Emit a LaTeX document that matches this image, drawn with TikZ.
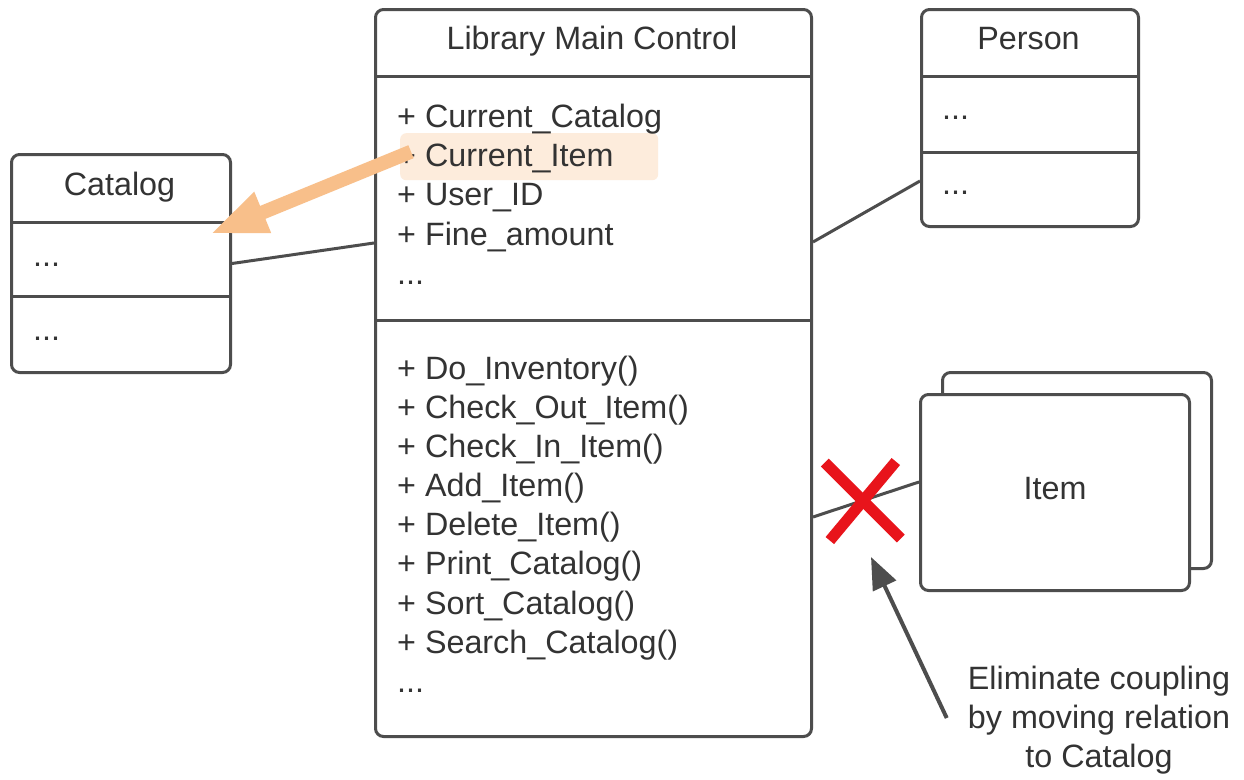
\documentclass[tikz,border=0pt]{standalone}
\usepackage{fontspec}
\setmainfont{Liberation Sans}
\usetikzlibrary{arrows.meta,calc}
\definecolor{ink}{HTML}{333333}
\definecolor{edge}{HTML}{4D4D4D}
\definecolor{peach}{HTML}{F8BF8A}
\definecolor{peachlight}{HTML}{FDECDC}
\definecolor{xred}{HTML}{E8141B}
\begin{document}
\begin{tikzpicture}[x=1pt,y=-1pt,
  every node/.style={font=\fontsize{32.3}{39}\selectfont, text=ink, inner sep=0pt},
  umlbox/.style={draw=edge, line width=3pt, rounded corners=8pt, fill=white, anchor=north west},
  sep/.style={draw=edge, line width=3pt},
  conn/.style={draw=edge, line width=3pt},
  member/.style={anchor=base west},
  title/.style={anchor=base},
  hint/.style={draw=edge, line width=4pt, -{Triangle[length=32pt,width=25pt]}},
  move/.style={draw=peach, line width=14pt, -{Triangle[length=57pt,width=40pt]}},
  cross/.style={draw=xred, line width=11pt}
]
\useasboundingbox[fill=white] (0,0) rectangle (1244,779);

% ---------- Library Main Control ----------
\node[umlbox, minimum width=436pt, minimum height=727pt] (main) at (374,8) {};
\draw[sep] (main.west |- 0,76) -- (main.east |- 0,76);
\draw[sep] (main.west |- 0,320) -- (main.east |- 0,320);
\node[title] (mainT) at (592,49) {Library Main Control};

\node[fill=peachlight, rounded corners=6pt, minimum width=258pt, minimum height=47pt, anchor=north west] (hl) at (400,133) {};

\node[member] (a1) at (397,127) {+ Current\_Catalog};
\node[member] (a2) at (397,166) {+ Current\_Item};
\node[member] (a3) at (397,205) {+ User\_ID};
\node[member] (a4) at (397,245) {+ Fine\_amount};
\node[member] (a5) at (397,284) {...};

\node[member] (m1) at (397,379) {+ Do\_Inventory()};
\node[member] (m2) at (397,418) {+ Check\_Out\_Item()};
\node[member] (m3) at (397,457) {+ Check\_In\_Item()};
\node[member] (m4) at (397,496) {+ Add\_Item()};
\node[member] (m5) at (397,535) {+ Delete\_Item()};
\node[member] (m6) at (397,574) {+ Print\_Catalog()};
\node[member] (m7) at (397,614) {+ Sort\_Catalog()};
\node[member] (m8) at (397,653) {+ Search\_Catalog()};
\node[member] (m9) at (397,692) {...};

% ---------- Catalog ----------
\node[umlbox, minimum width=219pt, minimum height=218pt] (cat) at (10,153) {};
\draw[sep] (cat.west |- 0,222) -- (cat.east |- 0,222);
\draw[sep] (cat.west |- 0,296) -- (cat.east |- 0,296);
\node[title] (catT) at (119.5,195) {Catalog};
\node[member] (c1) at (33,266) {...};
\node[member] (c2) at (33,340) {...};

% ---------- Person ----------
\node[umlbox, minimum width=217pt, minimum height=217pt] (person) at (920,8) {};
\draw[sep] (person.west |- 0,76) -- (person.east |- 0,76);
\draw[sep] (person.west |- 0,152) -- (person.east |- 0,152);
\node[title] (personT) at (1028.5,49) {Person};
\node[member] (p1) at (942,119) {...};
\node[member] (p2) at (942,194) {...};

% ---------- Item (multi-object) ----------
\node[umlbox, minimum width=269pt, minimum height=196pt] (itemback) at (941,371) {};
\node[umlbox, minimum width=269pt, minimum height=196pt] (item) at (919,393) {};
\node[title] (itemT) at (item.center |- 0,499) {Item};

% ---------- associations ----------
\draw[conn] (cat.east) -- ($(main.north west)+(0,235)$);
\draw[conn] ($(main.north east)+(0,234)$) -- ($(person.north west)+(0,173)$);
\coordinate (itemL) at ($(main.north east)+(0,509)$);
\coordinate (itemR) at ($(item.north west)+(0,89)$);
\draw[conn] (itemL) -- (itemR);

% removed association
\coordinate (cut) at ($(itemL)!0.47!(itemR)$);
\draw[cross] ($(cut)+(-38,-38)$) -- ($(cut)+(38,38)$);
\draw[cross] ($(cut)+(33,-39)$) -- ($(cut)+(-33,40)$);

% ---------- note ----------
\node[anchor=north, align=center] (note) at (1099,666) {Eliminate coupling\\by moving relation\\to Catalog};
\coordinate (hintTip) at (871,557);
\draw[hint] ([shift={(-21,11)}]note.north west |- 0,707) -- (hintTip);

% ---------- suggested move ----------
\coordinate (moveTip) at ($(cat.north east)+(-22,81)$);
\draw[move] ([shift={(11,-5)}]hl.west) -- (moveTip);
\end{tikzpicture}
\end{document}
